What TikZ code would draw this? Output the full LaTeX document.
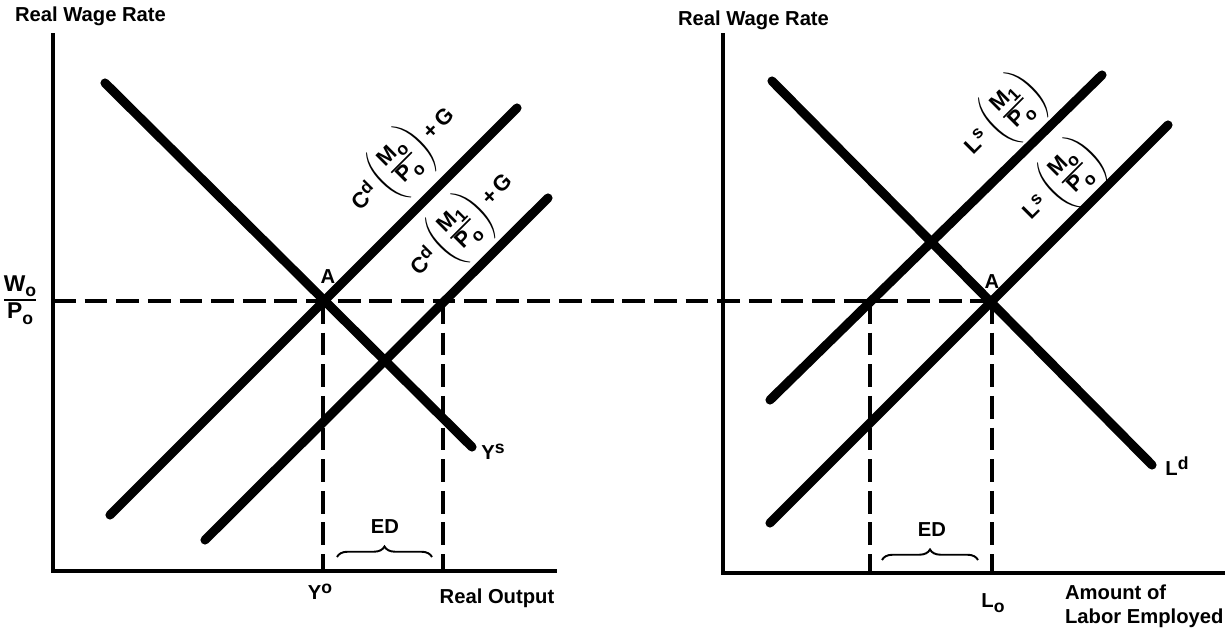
\documentclass[tikz,border=0pt]{standalone}
\usepackage{amsmath}
\usepackage{fontspec}
\setmainfont{Liberation Sans}
\usetikzlibrary{decorations.pathreplacing, calc}

\tikzset{
  curve/.style={line width=5.2pt, line cap=round},
  axis/.style={line width=2.2pt},
  guide/.style={line width=2pt, dash pattern=on 13pt off 5pt},
  edbrace/.style={decorate, decoration={brace, amplitude=6pt}, line width=1.1pt},
  lbl/.style={font=\fontsize{11.5}{13}\selectfont\bfseries, inner sep=1pt},
  dlbl/.style={font=\fontsize{12.5}{14}\selectfont\bfseries, inner sep=0pt, rotate=45},
}
% raised / lowered small letters
\newcommand{\supr}[1]{\raisebox{0.6ex}{\fontsize{10}{11}\selectfont #1}}
\newcommand{\subr}[1]{\raisebox{-0.45ex}{\fontsize{10}{11}\selectfont #1}}
% real balance term (M_x / P_o) in parentheses
\newcommand{\mratio}[1]{$\Biggl(\genfrac{}{}{0.9pt}{}{\hbox{M\subr{#1}}}{\hbox{P\subr{o}}}\Biggr)$}

\begin{document}
\begin{tikzpicture}[x=0.2mm, y=-0.2mm]
  \useasboundingbox (0,0) rectangle (1225,630);

  % left panel: output market
  \coordinate (yax) at (53,33);
  \coordinate (lorig) at (53,571);
  \coordinate (xend) at (557,571);
  \draw[axis] (yax) -- (lorig) -- (xend);

  \coordinate (ys1) at (105,83);   \coordinate (ys2) at (472,447);
  \coordinate (cdo1) at (110,515); \coordinate (cdo2) at (517,108);
  \coordinate (cdm1) at (205,540); \coordinate (cdm2) at (548,198);
  \draw[curve] (ys1) -- (ys2);
  \draw[curve] (cdo1) -- (cdo2);
  \draw[curve] (cdm1) -- (cdm2);

  \coordinate (Aleft) at (323,301);
  \coordinate (Eleft) at (443,301);

  % right panel: labor market
  \coordinate (ryax) at (723,33);
  \coordinate (rorig) at (723,573);
  \coordinate (rxend) at (1225,573);
  \draw[axis] (ryax) -- (rorig) -- (rxend);

  \coordinate (ld1) at (772,81);   \coordinate (ld2) at (1152,465);
  \coordinate (lso1) at (770,523); \coordinate (lso2) at (1168,125);
  \coordinate (lsm1) at (770,400); \coordinate (lsm2) at (1102,75);
  \draw[curve] (ld1) -- (ld2);
  \draw[curve] (lso1) -- (lso2);
  \draw[curve] (lsm1) -- (lsm2);

  \coordinate (Aright) at (992,301);
  \coordinate (Eright) at (870,301);

  % real wage line and guides
  \coordinate (wstart) at (53,301);
  \draw[guide] (wstart) -- (Aright);
  \draw[guide] (Aleft) -- (Aleft |- lorig);
  \draw[guide] (Eleft) -- (Eleft |- lorig);
  \draw[guide] (Eright) -- (Eright |- rorig);
  \draw[guide] (Aright) -- (Aright |- rorig);

  % excess demand braces
  \coordinate (bl1) at (337,557); \coordinate (bl2) at (432,557);
  \coordinate (br1) at (882,560); \coordinate (br2) at (978,560);
  \draw[edbrace] (bl1) -- (bl2);
  \draw[edbrace] (br1) -- (br2);

  % labels
  \node[lbl, anchor=west] (yl)  at (13,16)  {Real Wage Rate};
  \node[lbl, anchor=west] (ryl) at (676,20) {Real Wage Rate};
  \node[lbl, font=\fontsize{13}{15}\selectfont\bfseries] (wp) at (20,300)
    {$\genfrac{}{}{1.2pt}{}{\hbox{W\subr{o}}}{\hbox{P\subr{o}}}$};
  \node[lbl] (alab)  at (328,277) {A};
  \node[lbl] (aralb) at (992,282) {A};
  \node[lbl] (yslab) at (493,452) {Y\supr{s}};
  \node[lbl] (ldlab) at (1177,466) {L\supr{d}};
  \node[lbl] (yolab) at (320,592) {Y\supr{o}};
  \node[lbl] (xlab)  at (497,598) {Real Output};
  \node[lbl] (lolab) at (993,603) {L\subr{o}};
  \node[lbl, anchor=west] (rxl1) at (1063,592) {Amount of};
  \node[lbl, anchor=west] (rxl2) at (1063,618) {Labor Employed};
  \node[lbl] (edl) at (385,527) {ED};
  \node[lbl] (edr) at (932,530) {ED};

  \node[dlbl] (cdolab) at (404,160) {C\supr{d}\,\mratio{o}\,+\,G};
  \node[dlbl] (cdmlab) at (463,226) {C\supr{d}\,\mratio{1}\,+\,G};
  \node[dlbl] (lsmlab) at (1003,118) {L\supr{s}\;\mratio{1}};
  \node[dlbl] (lsolab) at (1062,183) {L\supr{s}\;\mratio{o}};

\end{tikzpicture}
\end{document}
